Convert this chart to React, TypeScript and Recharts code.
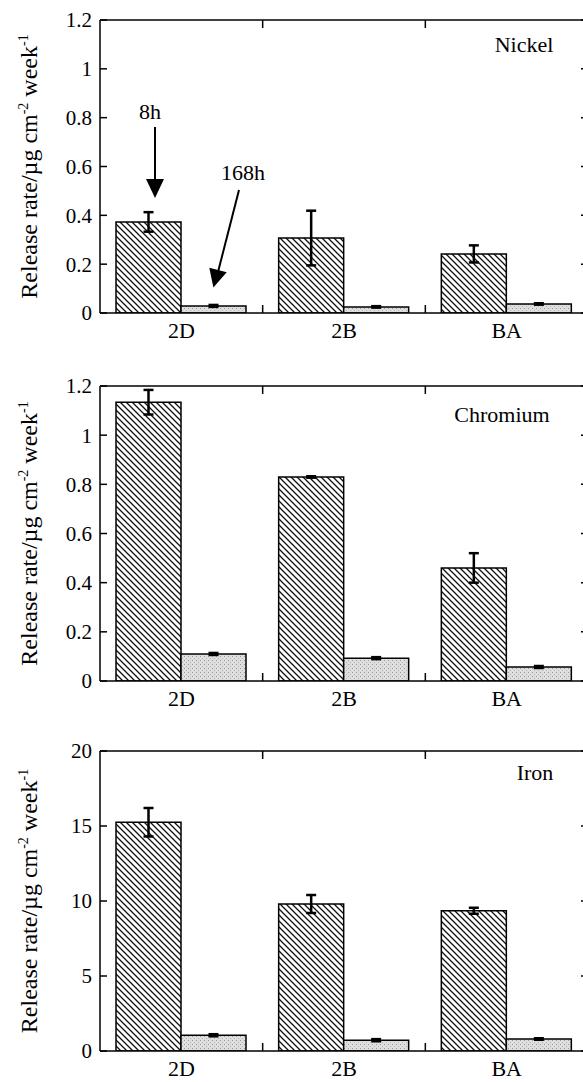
import { Bar, BarChart, CartesianGrid, ErrorBar, ReferenceLine, XAxis, YAxis } from 'recharts';

const SERIF = '"Liberation Serif", "Times New Roman", serif';

const SITES = ['2D', '2B', 'BA'];

const NICKEL_8H = [0.373, 0.307, 0.242];
const NICKEL_8H_ERR = [0.04, 0.112, 0.035];
const NICKEL_168H = [0.029, 0.025, 0.037];
const NICKEL_168H_ERR = [0.004, 0.003, 0.003];

const CHROMIUM_8H = [1.134, 0.83, 0.46];
const CHROMIUM_8H_ERR = [0.05, 0.003, 0.06];
const CHROMIUM_168H = [0.11, 0.093, 0.057];
const CHROMIUM_168H_ERR = [0.004, 0.004, 0.004];

const IRON_8H = [15.25, 9.8, 9.35];
const IRON_8H_ERR = [0.95, 0.6, 0.2];
const IRON_168H = [1.05, 0.72, 0.8];
const IRON_168H_ERR = [0.07, 0.07, 0.05];

const RATE_TICKS = [0, 0.2, 0.4, 0.6, 0.8, 1, 1.2];
const IRON_TICKS = [0, 5, 10, 15, 20];

function makeRows(h8: number[], h8Err: number[], h168: number[], h168Err: number[]) {
  return SITES.map((site, i) => ({ site, h8: h8[i], h8Err: h8Err[i], h168: h168[i], h168Err: h168Err[i] }));
}

const axisStroke = { stroke: '#000', strokeWidth: 1.5 };

// site boundaries: the category bands split the plot width evenly
function siteEdges({ xAxis, offset }: any) {
  const left = offset?.left ?? xAxis?.x ?? 0;
  const width = offset?.width ?? xAxis?.width ?? 0;
  return SITES.slice(1).map((_, i) => left + (width * (i + 1)) / SITES.length);
}

function edgeTick(props: any) {
  const { x1, y1, y2 } = props;
  return (
    <g key={`e-${x1}`}>
      <line x1={x1} y1={y1} x2={x1} y2={y1 + 8} stroke="#000" strokeWidth={1.5} />
      <line x1={x1} y1={y2} x2={x1} y2={y2 - 8} stroke="#000" strokeWidth={1.5} />
    </g>
  );
}

function valueTick(props: any) {
  const { x1, x2, y1 } = props;
  return (
    <g key={`v-${y1}`}>
      <line x1={x1} y1={y1} x2={x1 + 7} y2={y1} stroke="#000" strokeWidth={1.5} />
      <line x1={x2 - 7} y1={y1} x2={x2} y2={y1} stroke="#000" strokeWidth={1.5} />
    </g>
  );
}

function YTitle(props: any) {
  const vb = props.viewBox ?? { x: 0, y: 0, width: 100, height: 300 };
  const cx = vb.x + 37;
  const cy = vb.y + vb.height / 2;
  return (
    <text transform={`translate(${cx},${cy}) rotate(-90)`} textAnchor="middle" fontSize={24} fill="#000">
      Release rate/µg cm
      <tspan dy={-9} fontSize={14}>-2</tspan>
      <tspan dy={9}> week</tspan>
      <tspan dy={-9} fontSize={14}>-1</tspan>
    </text>
  );
}

function Panel({ id, top, height, marginTop, marginBottom, rows, max, ticks }: {
  id: string; top: number; height: number; marginTop: number; marginBottom: number;
  rows: ReturnType<typeof makeRows>; max: number; ticks: number[];
}) {
  return (
    <div style={{ position: 'absolute', left: 0, top }}>
      <BarChart width={600} height={height} data={rows} margin={{ top: marginTop, right: 12, left: 0, bottom: marginBottom }} barCategoryGap={16} barGap={0}>
        <defs>
          <pattern id={`hatch-${id}`} patternUnits="userSpaceOnUse" width={6} height={6}>
            <rect width={6} height={6} fill="#fff" />
            <path d="M-1,-1 L7,7 M-1,5 L1,7 M5,-1 L7,1" stroke="#111" strokeWidth={1.3} />
          </pattern>
          <pattern id={`dots-${id}`} patternUnits="userSpaceOnUse" width={4} height={4}>
            <rect width={4} height={4} fill="#dedede" />
            <rect x={0} y={0} width={1} height={1} fill="#9a9a9a" />
            <rect x={2} y={2} width={1} height={1} fill="#b5b5b5" />
          </pattern>
        </defs>
        <CartesianGrid vertical={edgeTick} horizontal={valueTick} verticalCoordinatesGenerator={siteEdges} fill="none" />
        <XAxis dataKey="site" height={30} interval={0} tickLine={false} tickSize={6} tickMargin={3} axisLine={axisStroke}
          tick={{ fill: '#000', fontSize: 22 }} />
        <YAxis width={100} domain={[0, max]} ticks={ticks} allowDataOverflow tickLine={false} axisLine={axisStroke}
          tick={{ fill: '#000', fontSize: 21 }} tickMargin={2} label={{ content: <YTitle /> }} />
        <ReferenceLine y={max} stroke="#000" strokeWidth={1.5} />
        <Bar dataKey="h8" fill={`url(#hatch-${id})`} stroke="#000" strokeWidth={1.5} isAnimationActive={false}>
          <ErrorBar dataKey="h8Err" width={5} stroke="#000" strokeWidth={2.5} isAnimationActive={false} />
        </Bar>
        <Bar dataKey="h168" fill={`url(#dots-${id})`} stroke="#000" strokeWidth={1.5} isAnimationActive={false}>
          <ErrorBar dataKey="h168Err" width={5} stroke="#000" strokeWidth={2.5} isAnimationActive={false} />
        </Bar>
      </BarChart>
    </div>
  );
}

export default function App() {
  const nickel = makeRows(NICKEL_8H, NICKEL_8H_ERR, NICKEL_168H, NICKEL_168H_ERR);
  const chromium = makeRows(CHROMIUM_8H, CHROMIUM_8H_ERR, CHROMIUM_168H, CHROMIUM_168H_ERR);
  const iron = makeRows(IRON_8H, IRON_8H_ERR, IRON_168H, IRON_168H_ERR);
  const text = { fontSize: 22, fill: '#000' };
  return (
    <div className="fig" style={{ position: 'absolute', left: 0, top: 0, width: 583, height: 1082, overflow: 'hidden', background: '#fff' }}>
      <style>{`.fig text, .fig tspan { font-family: ${SERIF} !important; }`}</style>
      <Panel id="ni" top={0} height={360} marginTop={20} marginBottom={17} rows={nickel} max={1.2} ticks={RATE_TICKS} />
      <Panel id="cr" top={360} height={360} marginTop={26} marginBottom={9} rows={chromium} max={1.2} ticks={RATE_TICKS} />
      <Panel id="fe" top={720} height={362} marginTop={31} marginBottom={1} rows={iron} max={20} ticks={IRON_TICKS} />
      <svg width={583} height={1082} style={{ position: 'absolute', left: 0, top: 0, pointerEvents: 'none' }}>
        <text x={524} y={52} textAnchor="middle" {...text}>Nickel</text>
        <text x={502} y={422} textAnchor="middle" {...text}>Chromium</text>
        <text x={535} y={780} textAnchor="middle" {...text}>Iron</text>
        <text x={150} y={119} textAnchor="middle" {...text}>8h</text>
        <line x1={155} y1={127} x2={155} y2={182} stroke="#000" strokeWidth={2} />
        <polygon points="146,179 164,179 155,198" fill="#000" />
        <text x={243} y={180} textAnchor="middle" {...text}>168h</text>
        <line x1={239} y1={190} x2={218} y2={272} stroke="#000" strokeWidth={2} />
        <polygon points="226.7,272.3 209.3,267.7 213.4,287.4" fill="#000" />
      </svg>
    </div>
  );
}
